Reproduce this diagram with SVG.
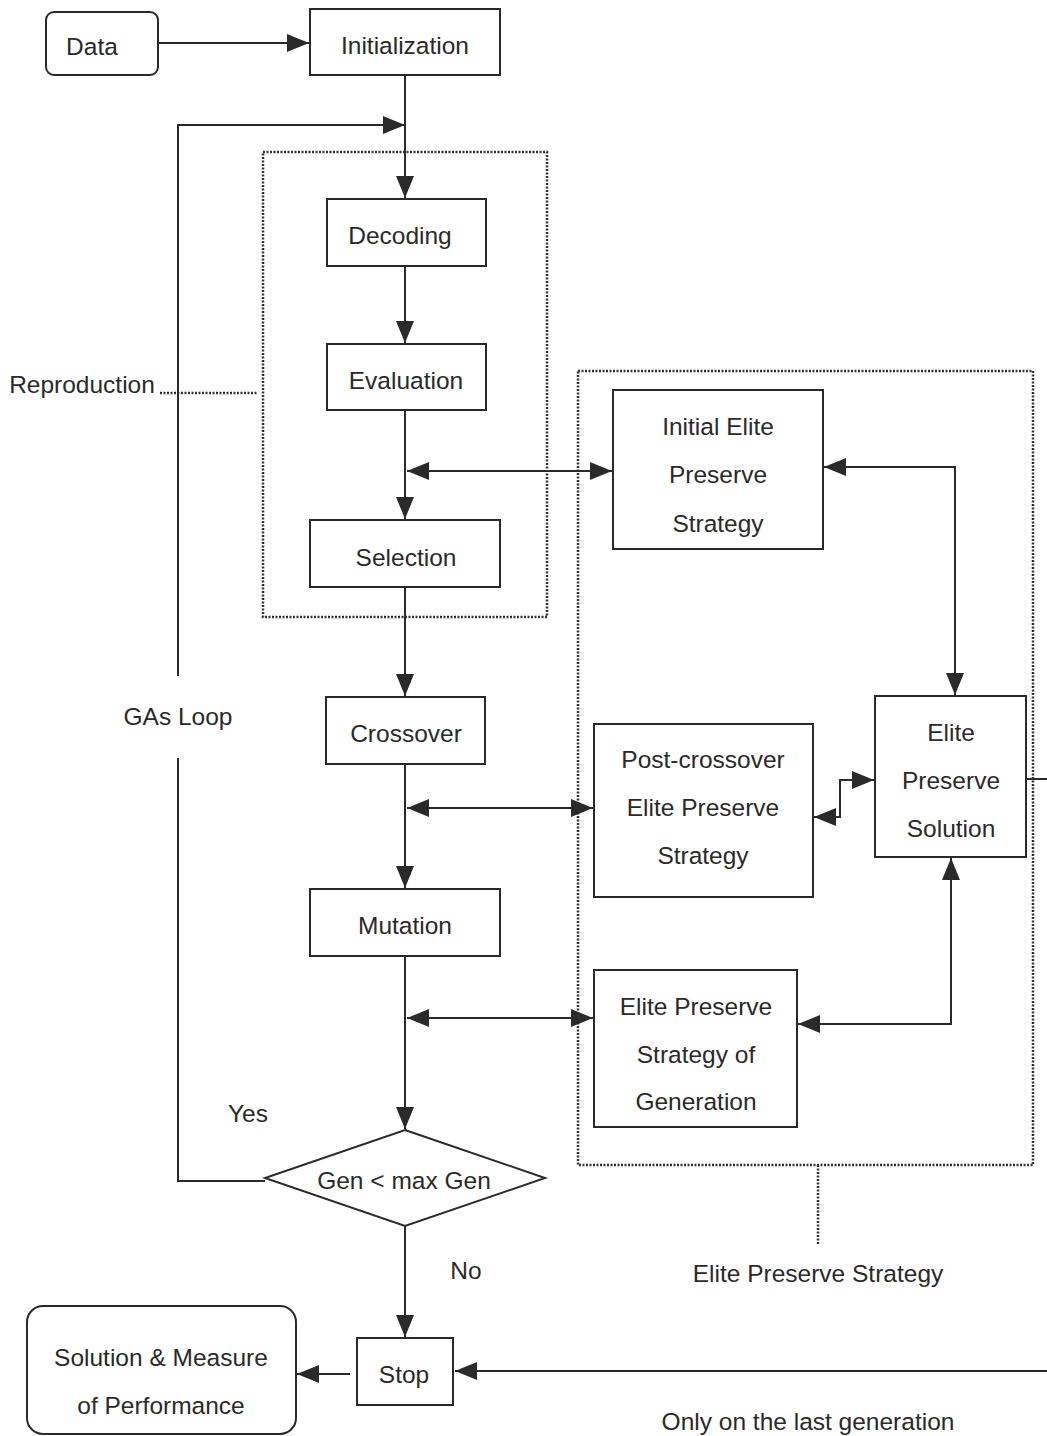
<svg xmlns="http://www.w3.org/2000/svg" width="1047" height="1436" viewBox="0 0 1047 1436">
<defs>
<style>
.box{fill:#fff;stroke:#2a2a2a;stroke-width:2}
.ln{fill:none;stroke:#2a2a2a;stroke-width:2}
.dot{fill:none;stroke:#333;stroke-width:2.5;stroke-dasharray:2 1.5}
text{font-family:"Liberation Sans",Arial,sans-serif;font-size:24.5px;fill:#2a2a2a;text-anchor:middle;dominant-baseline:central}
</style>
<marker id="ah" viewBox="0 0 22 18" refX="22" refY="9" markerWidth="22" markerHeight="18" markerUnits="userSpaceOnUse" orient="auto-start-reverse">
<path d="M0,0 L22,9 L0,18 Z" fill="#2a2a2a"/>
</marker>
</defs>
<rect width="1047" height="1436" fill="#fff"/>

<g id="groups">
<rect class="dot" x="263" y="152" width="284" height="465"/>
<rect class="dot" x="578" y="371" width="455" height="794"/>
<path class="dot" d="M818,1165 V1245"/>
<path class="dot" d="M160,393 H257"/>
</g>

<g id="connectors">
<path class="ln" d="M153,43 H309" marker-end="url(#ah)"/>
<path class="ln" d="M405,75 V198" marker-end="url(#ah)"/>
<path class="ln" d="M265,1181 H178 V758 M178,676 V125 H405" marker-end="url(#ah)"/>
<path class="ln" d="M405,266 V343" marker-end="url(#ah)"/>
<path class="ln" d="M405,410 V519" marker-end="url(#ah)"/>
<path class="ln" d="M407,471 H612" marker-start="url(#ah)" marker-end="url(#ah)"/>
<path class="ln" d="M405,587 V696" marker-end="url(#ah)"/>
<path class="ln" d="M405,764 V888" marker-end="url(#ah)"/>
<path class="ln" d="M407,808 H593" marker-start="url(#ah)" marker-end="url(#ah)"/>
<path class="ln" d="M405,956 V1129" marker-end="url(#ah)"/>
<path class="ln" d="M407,1018 H593" marker-start="url(#ah)" marker-end="url(#ah)"/>
<path class="ln" d="M405,1226 V1337" marker-end="url(#ah)"/>
<path class="ln" d="M350,1374 H297" marker-end="url(#ah)"/>
<path class="ln" d="M1047,1371 H455" marker-end="url(#ah)"/>
<path class="ln" d="M824,467 H955 V695" marker-start="url(#ah)" marker-end="url(#ah)"/>
<path class="ln" d="M814,817 H840 V780 H874" marker-start="url(#ah)" marker-end="url(#ah)"/>
<path class="ln" d="M798,1024 H951 V858" marker-start="url(#ah)" marker-end="url(#ah)"/>
<path class="ln" d="M1026,779 H1047"/>
</g>

<g id="data"><rect class="box" x="46" y="12" width="112" height="63" rx="8"/><text x="92" y="46">Data</text></g>
<g id="initialization"><rect class="box" x="310" y="9" width="190" height="66"/><text x="405" y="45">Initialization</text></g>
<g id="decoding"><rect class="box" x="327" y="199" width="159" height="67"/><text x="400" y="235">Decoding</text></g>
<g id="evaluation"><rect class="box" x="327" y="344" width="159" height="66"/><text x="406" y="380">Evaluation</text></g>
<g id="selection"><rect class="box" x="310" y="520" width="190" height="67"/><text x="406" y="557">Selection</text></g>
<g id="crossover"><rect class="box" x="326" y="697" width="159" height="67"/><text x="406" y="733">Crossover</text></g>
<g id="mutation"><rect class="box" x="310" y="889" width="190" height="67"/><text x="405" y="925">Mutation</text></g>
<g id="decision"><polygon class="box" points="405,1130 545,1178 405,1226 265,1178"/><text x="404" y="1180">Gen &lt; max Gen</text></g>
<g id="stop"><rect class="box" x="357" y="1338" width="96" height="67"/><text x="404" y="1374">Stop</text></g>
<g id="solution"><rect class="box" x="27" y="1306" width="269" height="128" rx="16"/><text x="161" y="1357">Solution &amp; Measure</text><text x="161" y="1405">of Performance</text></g>
<g id="initial-elite"><rect class="box" x="613" y="390" width="210" height="159"/><text x="718" y="426">Initial Elite</text><text x="718" y="474">Preserve</text><text x="718" y="523">Strategy</text></g>
<g id="post-crossover"><rect class="box" x="594" y="724" width="219" height="173"/><text x="703" y="759">Post-crossover</text><text x="703" y="807">Elite Preserve</text><text x="703" y="855">Strategy</text></g>
<g id="elite-solution"><rect class="box" x="875" y="696" width="151" height="161"/><text x="951" y="732">Elite</text><text x="951" y="780">Preserve</text><text x="951" y="828">Solution</text></g>
<g id="elite-generation"><rect class="box" x="594" y="970" width="203" height="157"/><text x="696" y="1006">Elite Preserve</text><text x="696" y="1054">Strategy of</text><text x="696" y="1101">Generation</text></g>

<g id="labels">
<text x="82" y="384">Reproduction</text>
<text x="178" y="716">GAs Loop</text>
<text x="248" y="1113">Yes</text>
<text x="466" y="1270">No</text>
<text x="818" y="1273">Elite Preserve Strategy</text>
<text x="808" y="1421">Only on the last generation</text>
</g>
</svg>
